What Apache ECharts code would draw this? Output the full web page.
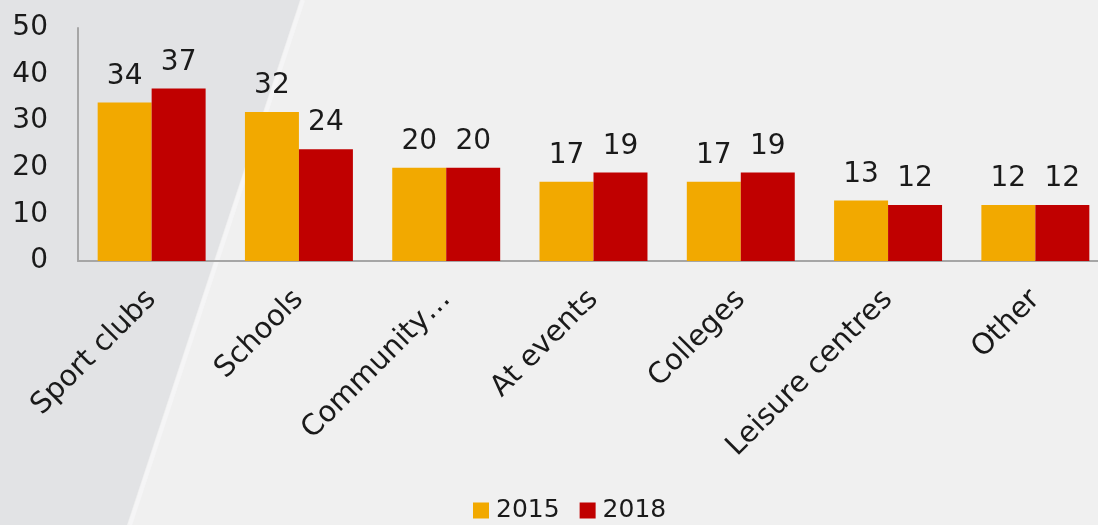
<!DOCTYPE html>
<html>
<head>
<meta charset="utf-8">
<script src="https://cdn.jsdelivr.net/npm/echarts@6/dist/echarts.min.js"></script>
<style>
  html, body { margin: 0; padding: 0; background: #f0f0f0; }
  #chart { width: 1098px; height: 525px; }
</style>
</head>
<body>
<div id="chart"></div>
<script>
const categories = ['Sport clubs', 'Schools', 'Community…', 'At events', 'Colleges', 'Leisure centres', 'Other'];
const values2015 = [34, 32, 20, 17, 17, 13, 12];
const values2018 = [37, 24, 20, 19, 19, 12, 12];
const seriesNames = ['2015', '2018'];

const chart = echarts.init(document.getElementById('chart'));
const fontFamily = 'DejaVu Sans';

const labelStyle = {
    show: true,
    position: 'top',
    distance: 12,
    color: '#1a1a1a',
    fontSize: 28,
    fontFamily: fontFamily
};

const option = {
    backgroundColor: '#f0f0f0',
    animation: false,
    graphic: [
        {
            // darker slanted panel on the left
            type: 'polygon',
            z: -10,
            silent: true,
            shape: {points: [[0, 0], [300, 0], [127, 525], [0, 525]]},
            style: {fill: '#e2e3e5'}
        },
        {
            type: 'polyline',
            z: -9,
            silent: true,
            shape: {points: [[303, 0], [130, 525]]},
            style: {stroke: '#f5f5f6', lineWidth: 4}
        }
    ],
    grid: {
        left: 78,
        width: 1031,
        top: 28,
        bottom: 264,
        outerBoundsMode: 'none'
    },
    legend: {
        bottom: 2,
        left: 473,
        padding: 0,
        itemWidth: 16,
        itemHeight: 16,
        itemGap: 20,
        icon: 'rect',
        data: seriesNames,
        textStyle: {
            fontSize: 25,
            color: '#1a1a1a',
            fontFamily: fontFamily,
            padding: [0, 0, 0, 2]
        }
    },
    xAxis: {
        type: 'category',
        data: categories,
        axisTick: {show: false},
        axisLine: {lineStyle: {color: '#a6a6a6', width: 2}},
        axisLabel: {
            rotate: 45,
            margin: 34,
            interval: 0,
            fontSize: 29,
            color: '#1a1a1a',
            fontFamily: fontFamily
        }
    },
    yAxis: {
        type: 'value',
        min: 0,
        max: 50,
        interval: 10,
        splitLine: {show: false},
        axisTick: {show: false},
        axisLine: {show: true, lineStyle: {color: '#a6a6a6', width: 2}},
        axisLabel: {
            margin: 30,
            fontSize: 28,
            color: '#1a1a1a',
            fontFamily: fontFamily
        }
    },
    series: [
        {
            name: seriesNames[0],
            type: 'bar',
            data: values2015,
            barGap: '0%',
            barCategoryGap: '26.7%',
            itemStyle: {color: '#f2a900'},
            label: labelStyle
        },
        {
            name: seriesNames[1],
            type: 'bar',
            data: values2018,
            itemStyle: {color: '#c00000'},
            label: labelStyle
        }
    ]
};

chart.setOption(option);
</script>
</body>
</html>
